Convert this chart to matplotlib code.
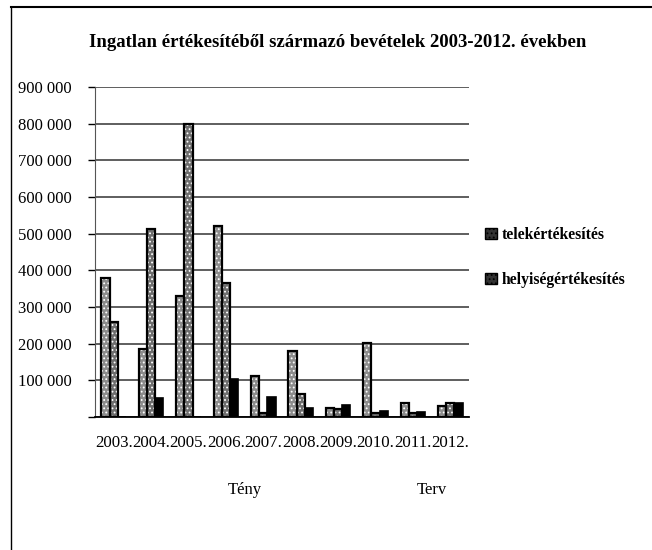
import matplotlib
matplotlib.use("Agg")
import matplotlib.pyplot as plt
import matplotlib.patches as mpatches
from matplotlib.lines import Line2D
import numpy as np

plt.rcParams['font.family'] = ['Liberation Serif', 'DejaVu Serif']
plt.rcParams['hatch.linewidth'] = 0.8

years = ['2003.', '2004.', '2005.', '2006.', '2007.', '2008.', '2009.', '2010.', '2011.', '2012.']
telek = [378000, 186000, 331000, 521000, 111000, 181000, 25000, 203000, 39000, 30000]
helyiseg = [260000, 513000, 800000, 366000, 10000, 62000, 21000, 10000, 12000, 37000]
egyeb = [0, 51000, 0, 104000, 55000, 25000, 33000, 16000, 13000, 39000]
yticks = [0, 100000, 200000, 300000, 400000, 500000, 600000, 700000, 800000, 900000]
ytick_labels = ['', '100 000', '200 000', '300 000', '400 000', '500 000',
                '600 000', '700 000', '800 000', '900 000']

fig = plt.figure(figsize=(6.52, 5.5), dpi=100)
ax = fig.add_axes([0.1457, 0.2418, 0.5736, 0.6])

x = np.arange(len(years))
w = 0.22

def hatched_bars(xpos, vals, face):
    # fill with white dots first, outline drawn on top
    ax.bar(xpos, vals, w, color=face, edgecolor='white', hatch='....', linewidth=0, zorder=3)
    ax.bar(xpos, vals, w, fill=False, edgecolor='black', linewidth=1.6, zorder=4)

hatched_bars(x - w, telek, '#8c8c8c')
hatched_bars(x, helyiseg, '#6e6e6e')
ax.bar(x + w, egyeb, w, color='black', edgecolor='black', linewidth=1.2, zorder=3)

ax.set_xlim(-0.5, len(years) - 0.5)
ax.set_ylim(0, 900000)
ax.set_yticks(yticks)
ax.set_yticklabels(ytick_labels, fontsize=12)
ax.set_xticks(x)
ax.set_xticklabels(years, fontsize=12.2)
ax.tick_params(axis='x', length=0, pad=13)
ax.tick_params(axis='y', length=5, width=1, pad=12)
ax.yaxis.grid(True, color='#333333', linewidth=1.1, zorder=0)
ax.set_axisbelow(True)
for s in ['top', 'right']:
    ax.spines[s].set_visible(False)
ax.spines['left'].set_color('#555555')
ax.spines['bottom'].set_linewidth(1.3)

fig.text(0.518, 0.922, 'Ingatlan értékesítéből származó bevételek 2003-2012. években',
         ha='center', va='center', fontsize=13.5, fontweight='bold')

fig.text(245 / 652, 1 - 490 / 550, 'Tény', ha='center', va='center', fontsize=12)
fig.text(432 / 652, 1 - 490 / 550, 'Terv', ha='center', va='center', fontsize=12)

handles = [mpatches.Patch(facecolor='#333333', edgecolor='black', hatch='....', label='telekértékesítés'),
           mpatches.Patch(facecolor='#333333', edgecolor='black', hatch='....', label='helyiségértékesítés')]
fig.legend(handles=handles, loc='upper left', bbox_to_anchor=(0.722, 0.613),
           frameon=False, prop={'size': 11.3, 'weight': 'bold'}, handlelength=0.75,
           handleheight=0.75, handletextpad=0.3, labelspacing=1.85)

# frame of the scanned chart box (only top and left survived)
fig.add_artist(Line2D([11 / 652, 1.0], [1 - 7 / 550, 1 - 7 / 550], color='black', linewidth=1.5))
fig.add_artist(Line2D([11 / 652, 11 / 652], [0.0, 1 - 7 / 550], color='black', linewidth=1.0))

fig.savefig('out.png', dpi=100)
